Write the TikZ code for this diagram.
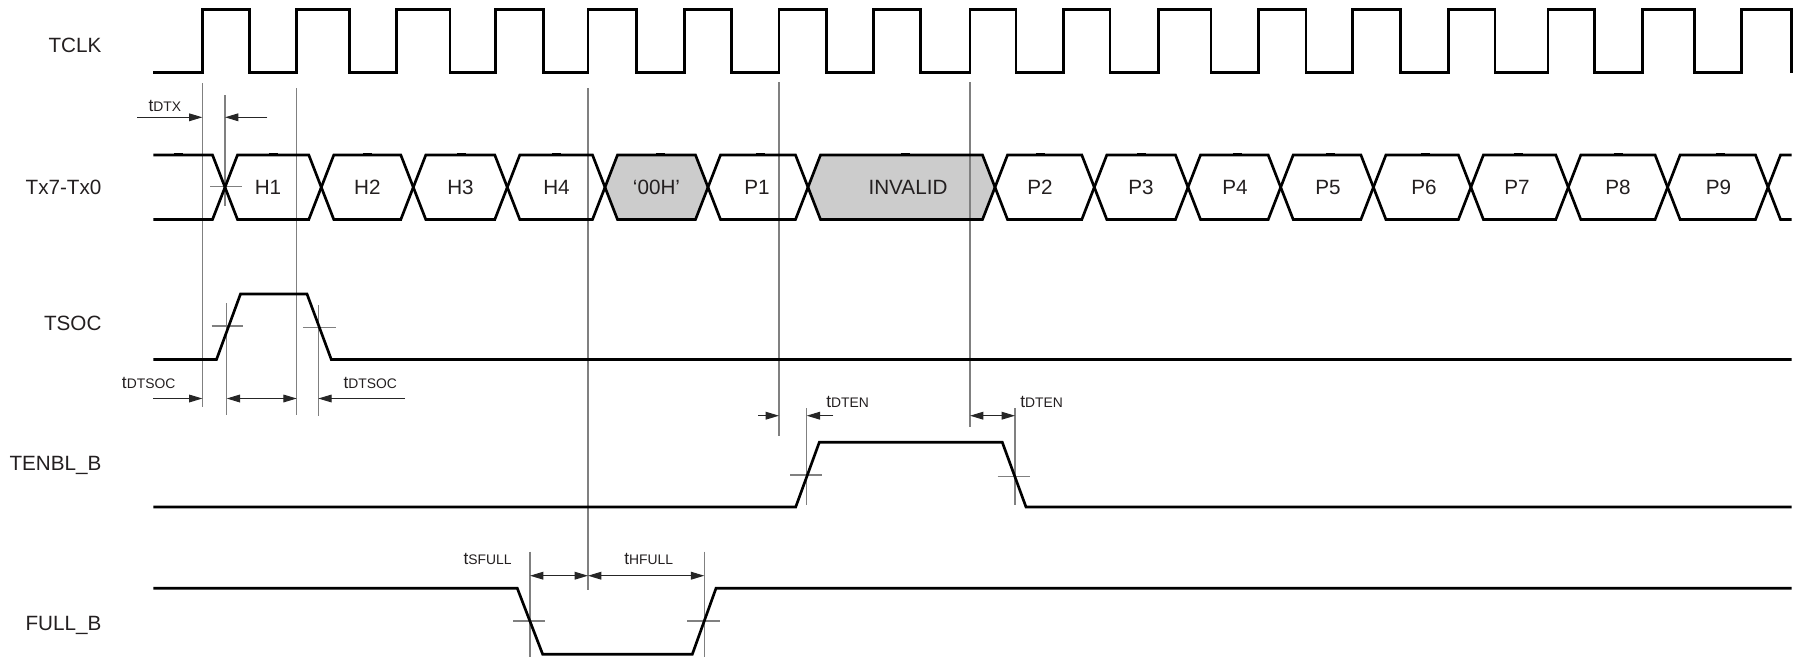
\documentclass[tikz,border=0pt]{standalone}
\usepackage{fontspec}
\setmainfont{Liberation Sans}
\usetikzlibrary{arrows.meta}
\definecolor{refgray}{HTML}{808080}
\definecolor{txt}{HTML}{231F20}
\definecolor{boxgray}{HTML}{CCCCCC}
\newcommand\tsub[1]{{\fontsize{13}{15}\selectfont t}{\fontsize{10.4}{12}\selectfont #1}}
\begin{document}
\begin{tikzpicture}[x=0.75pt,y=-0.75pt,
  sig/.style={line width=2.0pt, black, line join=miter, line cap=butt},
  refline/.style={line width=0.8pt, refgray},
  dimarrow/.style={line width=0.75pt, black!85, -{Triangle[length=10pt,width=5.8pt]}},
  dimboth/.style={line width=0.75pt, black!85, {Triangle[length=10pt,width=5.8pt]}-{Triangle[length=10pt,width=5.8pt]}},
  siglabel/.style={font=\fontsize{15.5}{18}\selectfont, inner sep=0pt, text=txt, anchor=base east},
  buslabel/.style={font=\fontsize{15.5}{18}\selectfont, inner sep=0pt, text=txt, anchor=base},
  tlabel/.style={inner sep=0pt, text=txt, anchor=base west},
  topmark/.style={fill=black, draw=none}
]
\useasboundingbox (0,0) rectangle (1811,658);

% ---------------- signal names ----------------
\node[siglabel] (nTCLK) at (101.7,52.3) {TCLK};
\node[siglabel] (nTX)   at (101.7,194) {Tx7-Tx0};
\node[siglabel] (nTSOC) at (101.7,330) {TSOC};
\node[siglabel] (nTEN)  at (101.7,470) {TENBL\_B};
\node[siglabel] (nFULL) at (101.7,630.7) {FULL\_B};

% ---------------- shaded bus boxes ----------------
\def\bt{155}\def\bb{219.5}\def\bm{187.25}\def\hw{12.5}
\foreach \a/\b in {605/708, 808/995}{
  \fill[boxgray] (\a,\bm) -- (\a+\hw,\bt) -- (\b-\hw,\bt) -- (\b,\bm) -- (\b-\hw,\bb) -- (\a+\hw,\bb) -- cycle;
}

% ---------------- reference lines ----------------
\draw[refline] (202.4,83) -- (202.4,406.5);
\draw[refline] (296.7,88) -- (296.7,415);
\draw[refline] (225,95) -- (225,206);
\draw[refline] (226.7,303) -- (226.7,415);
\draw[refline] (318.3,305) -- (318.3,416);
\draw[refline] (588,88) -- (588,590);
\draw[refline] (779,82) -- (779,436);
\draw[refline] (806.7,408) -- (806.7,505);
\draw[refline] (970,82) -- (970,427);
\draw[refline] (1015,408) -- (1015,505);
\draw[refline] (530,551.7) -- (530,656.7);
\draw[refline] (704.3,551.7) -- (704.3,656.7);
% horizontal crossing ticks
\draw[refline] (210,186.7) -- (241.7,186.7);
\draw[refline] (211.7,326) -- (243.3,326);
\draw[refline] (303.3,327.7) -- (335.7,327.7);
\draw[refline] (790,475) -- (821.7,475);
\draw[refline] (997.7,476.7) -- (1030,476.7);
\draw[refline] (513.3,621) -- (545,621);
\draw[refline] (687.3,621) -- (720,621);

% ---------------- TCLK ----------------
\draw[sig] (153.3,72.7)
  foreach \r/\f in {202.4/249.3, 296.7/349.8, 396.6/450, 495.5/543.7, 588/636.8,
                    684.2/731.7, 779/826.2, 873.6/920.3, 970/1016, 1063.4/1110,
                    1158.3/1210.9, 1258.5/1306, 1352.8/1400.7, 1448.2/1495,
                    1548/1594.8, 1642.3/1694.2, 1741.5/1791.7}
  { -- (\r,72.7) -- (\r,9.3) -- (\f,9.3) -- (\f,72.7) };

% ---------------- Tx7-Tx0 bus ----------------
\draw[sig] (153.3,\bt) -- (225-\hw,\bt) -- (225,\bm) -- (225-\hw,\bb) -- (153.3,\bb);
\foreach \a/\b in {225/321.3, 321.3/413.3, 413.3/507.3, 507.3/605, 605/708, 708/808,
                   808/995, 995/1094.3, 1094.3/1188, 1188/1280.7, 1280.7/1373.4,
                   1373.4/1470.9, 1470.9/1568.3, 1568.3/1667.6, 1667.6/1768}{
  \draw[sig] (\a,\bm) -- (\a+\hw,\bt) -- (\b-\hw,\bt) -- (\b,\bm) -- (\b-\hw,\bb) -- (\a+\hw,\bb) -- cycle;
}
\draw[sig] (1768,\bm) -- (1768+\hw,\bt) -- (1791.7,\bt);
\draw[sig] (1768,\bm) -- (1768+\hw,\bb) -- (1791.7,\bb);
% small marks on top edge
\foreach \m in {178, 273, 367, 461, 556, 660, 760, 905, 1040, 1141, 1237, 1330, 1425, 1518, 1618, 1720}{
  \fill[topmark] (\m-4.5,152.5) rectangle (\m+4.5,155);
}
% bus labels
\foreach \x/\t in {268/H1, 367.3/H2, 460.5/H3, 556.5/H4, 656.5/‘00H’, 757/P1, 908/INVALID,
                   1040/P2, 1141/P3, 1235/P4, 1328/P5, 1424/P6, 1517/P7, 1618/P8, 1718.5/P9}{
  \node[buslabel] at (\x,194) {\t};
}

% ---------------- TSOC ----------------
\draw[sig] (153.3,359.5) -- (216.5,359.5) -- (240.5,294) -- (307,294) -- (331.3,359.5) -- (1791.7,359.5);

% ---------------- TENBL_B ----------------
\draw[sig] (153.3,507) -- (795.7,507) -- (819.3,442.3) -- (1002.3,442.3) -- (1026,507) -- (1791.7,507);

% ---------------- FULL_B ----------------
\draw[sig] (153.3,588.3) -- (517.3,588.3) -- (542.7,654.3) -- (692.3,654.3) -- (716,588.3) -- (1791.7,588.3);

% ---------------- dimension arrows ----------------
\coordinate (dtxA) at (137.3,117.3);
\coordinate (dtxB) at (202.4,117.3);
\coordinate (dtxC) at (267.3,117.3);
\coordinate (dtxD) at (225,117.3);
\draw[dimarrow] (dtxA) -- (dtxB);
\draw[dimarrow] (dtxC) -- (dtxD);
\node[tlabel] (ltdtx) at (148.3,111) {\tsub{DTX}};

\coordinate (socA) at (153.3,398.5);
\coordinate (socB) at (202.4,398.5);
\coordinate (socC) at (226.7,398.5);
\coordinate (socD) at (296.7,398.5);
\coordinate (socE) at (405,398.5);
\coordinate (socF) at (318.3,398.5);
\draw[dimarrow] (socA) -- (socB);
\draw[dimboth] (socC) -- (socD);
\draw[dimarrow] (socE) -- (socF);
\node[tlabel] (ltsoc1) at (121.7,388.3) {\tsub{DTSOC}};
\node[tlabel] (ltsoc2) at (343.3,388.3) {\tsub{DTSOC}};

\coordinate (enA) at (758.3,415.7);
\coordinate (enB) at (779,415.7);
\coordinate (enC) at (833.3,415.7);
\coordinate (enD) at (806.7,415.7);
\coordinate (enE) at (970,415.7);
\coordinate (enF) at (1015,415.7);
\draw[dimarrow] (enA) -- (enB);
\draw[dimarrow] (enC) -- (enD);
\draw[dimboth] (enE) -- (enF);
\node[tlabel] (lten1) at (826,407.7) {\tsub{DTEN}};
\node[tlabel] (lten2) at (1020,407.7) {\tsub{DTEN}};

\coordinate (fuA) at (530,575.7);
\coordinate (fuB) at (588,575.7);
\coordinate (fuC) at (704.3,575.7);
\draw[dimboth] (fuA) -- (fuB);
\draw[dimboth] (fuB) -- (fuC);
\node[tlabel] (lsfull) at (463.3,564) {\tsub{SFULL}};
\node[tlabel] (lhfull) at (624,564) {\tsub{HFULL}};
\end{tikzpicture}
\end{document}
